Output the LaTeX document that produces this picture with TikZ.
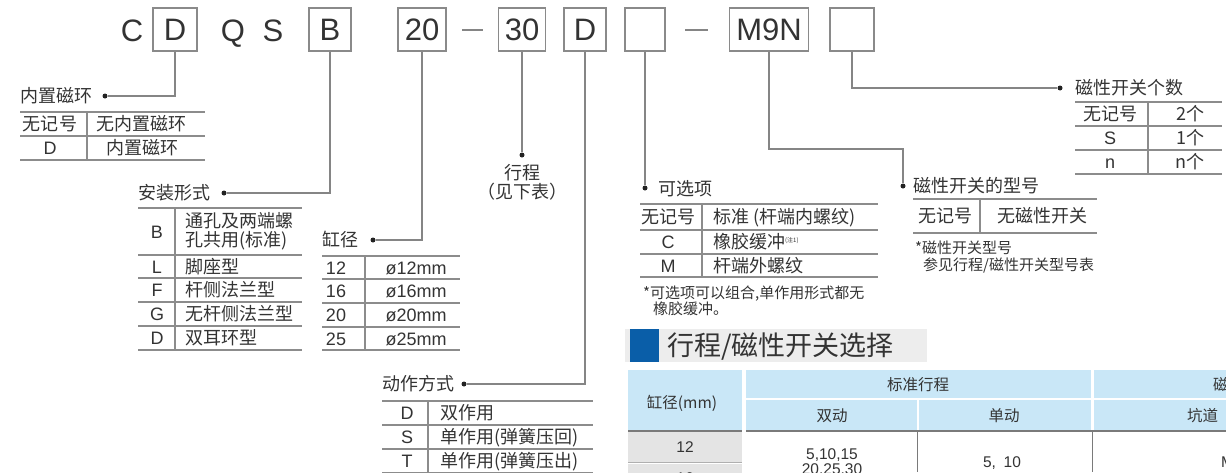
\documentclass[tikz,border=0pt]{standalone}
\usepackage{fontspec}
\setmainfont{Liberation Sans}
\newfontfamily\cjk{Noto Sans CJK SC}
\definecolor{tc}{HTML}{333333}
\definecolor{lc}{HTML}{8C8C8C}
\definecolor{cc}{HTML}{858585}
\definecolor{bc}{HTML}{8A8A8A}
\definecolor{dc}{HTML}{222222}
\definecolor{hb}{HTML}{C9E7F7}
\definecolor{gb}{HTML}{E4E4E4}
\definecolor{dl}{HTML}{7A7A7A}
\definecolor{tb}{HTML}{EDEDED}
\definecolor{bl}{HTML}{0A5EA8}
\tikzset{
  every node/.style={inner sep=0pt, text=tc},
  cn/.style={font=\cjk\fontsize{18}{18}\selectfont, text height=13pt, text depth=0pt},
  ln/.style={font=\fontsize{18}{18}\selectfont, text height=13pt, text depth=0pt},
  nt/.style={font=\cjk\fontsize{15}{15}\selectfont, text height=11pt, text depth=0pt},
  bt/.style={font=\cjk\fontsize{15.5}{15.5}\selectfont, text height=11pt, text depth=0pt},
  btl/.style={font=\fontsize{15.5}{15.5}\selectfont, text height=11pt, text depth=0pt},
  big/.style={font=\fontsize{31}{31}\selectfont, text height=22pt, text depth=0pt},
  codebox/.style={draw=bc, line width=1.2pt, minimum height=43pt, big},
  tl/.style={draw=lc, line width=1.1pt},
  conn/.style={draw=cc, line width=1.2pt},
  dotn/.style={circle, fill=dc, minimum size=5pt, inner sep=0pt},
}
\begin{document}
\begin{tikzpicture}[x=1pt,y=-1pt]
\useasboundingbox (0,0) rectangle (1226,472);
\clip (0,0) rectangle (1226,472);

% ---------- code row ----------
\node[big] (tC) at (132,30) {C};
\node[codebox, minimum width=44pt] (bD) at (175,29.5) {D};
\node[big] (tQ) at (233,30) {Q};
\node[big] (tS) at (273,30) {S};
\node[codebox, minimum width=42pt] (bB) at (330,29.5) {B};
\node[codebox, minimum width=48pt] (b20) at (422,29.5) {20};
\coordinate (h1a) at (462,30); \coordinate (h1b) at (483,30);
\draw[conn] (h1a) -- (h1b);
\node[codebox, minimum width=47pt] (b30) at (522,29.5) {30};
\node[codebox, minimum width=42pt] (bD2) at (585,29.5) {D};
\node[codebox, minimum width=40pt] (bE1) at (645,29.5) {};
\coordinate (h2a) at (685,30); \coordinate (h2b) at (708,30);
\draw[conn] (h2a) -- (h2b);
\node[codebox, minimum width=79pt] (bM) at (769,29.5) {M9N};
\node[codebox, minimum width=44pt] (bE2) at (852,29.5) {};

% ---------- 内置磁环 ----------
\node[dotn] (p1) at (105,96) {};
\node[cn, anchor=west] (l1) at (20,96) {内置磁环};
\draw[conn] (bD.south) |- (p1);
\draw[tl] (20,112) -- (205,112) (20,136) -- (205,136) (20,160) -- (205,160) (87,112) -- (87,160);
\node[cn] at (50,124) {无记号};
\node[cn] at (141,124) {无内置磁环};
\node[ln] at (50,148) {D};
\node[cn] at (142,148) {内置磁环};

% ---------- 安装形式 ----------
\node[dotn] (p2) at (224,193) {};
\node[cn, anchor=west] (l2) at (138,193) {安装形式};
\draw[conn] (bB.south) |- (p2);
\draw[tl] (138,208) -- (302,208) (138,255) -- (302,255) (138,278) -- (302,278)
  (138,302) -- (302,302) (138,326) -- (302,326) (138,350) -- (302,350) (175,208) -- (175,350);
\node[ln] at (157,232) {B};
\node[cn, anchor=west] at (185,221) {通孔及两端螺};
\node[cn, anchor=west] at (185,240) {孔共用(标准)};
\node[ln] at (157,267) {L};
\node[cn, anchor=west] at (185,267) {脚座型};
\node[ln] at (157,290) {F};
\node[cn, anchor=west] at (185,290) {杆侧法兰型};
\node[ln] at (157,314) {G};
\node[cn, anchor=west] at (185,314) {无杆侧法兰型};
\node[ln] at (157,338) {D};
\node[cn, anchor=west] at (185,338) {双耳环型};

% ---------- 缸径 ----------
\node[dotn] (p3) at (373,240) {};
\node[cn, anchor=west] (l3) at (322,240) {缸径};
\draw[conn] (b20.south) |- (p3);
\draw[tl] (322,256) -- (460,256) (322,279) -- (460,279) (322,303) -- (460,303)
  (322,327) -- (460,327) (322,350) -- (460,350) (365,256) -- (365,350);
\node[ln] at (336,267.5) {12};
\node[ln] at (416,267.5) {ø12mm};
\node[ln] at (336,291) {16};
\node[ln] at (416,291) {ø16mm};
\node[ln] at (336,315) {20};
\node[ln] at (416,315) {ø20mm};
\node[ln] at (336,338.5) {25};
\node[ln] at (416,338.5) {ø25mm};

% ---------- 行程 ----------
\node[dotn] (p4) at (522,155) {};
\draw[conn] (b30.south) -- (p4);
\node[cn] (l4a) at (522,173) {行程};
\node[cn] (l4b) at (522,192) {（见下表）};

% ---------- 动作方式 ----------
\node[dotn] (p5) at (464,384) {};
\node[cn, anchor=west] (l5) at (382,384) {动作方式};
\draw[conn] (bD2.south) |- (p5);
\draw[tl] (382,401) -- (593,401) (382,425) -- (593,425) (382,449) -- (593,449) (382,473) -- (593,473) (428,401) -- (428,473);
\node[ln] at (407,413) {D};
\node[cn, anchor=west] at (440,413) {双作用};
\node[ln] at (407,437) {S};
\node[cn, anchor=west] at (440,437) {单作用(弹簧压回)};
\node[ln] at (407,461) {T};
\node[cn, anchor=west] at (440,461) {单作用(弹簧压出)};

% ---------- 可选项 ----------
\node[dotn] (p6) at (645,188) {};
\node[cn, anchor=west] (l6) at (658,189) {可选项};
\draw[conn] (bE1.south) -- (p6);
\draw[tl] (640,204) -- (878,204) (640,230) -- (878,230) (640,254) -- (878,254) (640,277) -- (878,277) (702,204) -- (702,277);
\node[cn] at (668,217) {无记号};
\node[cn, anchor=west] at (713,217) {标准 (杆端内螺纹)};
\node[ln] at (668,242) {C};
\node[cn, anchor=west] at (713,242) {橡胶缓冲\raisebox{6pt}{\fontsize{6}{6}\selectfont(注1)}};
\node[ln] at (668,266) {M};
\node[cn, anchor=west] at (713,266) {杆端外螺纹};
\node[nt, anchor=west] at (643,293) {*可选项可以组合,单作用形式都无};
\node[nt, anchor=west] at (653,309) {橡胶缓冲。};

% ---------- 磁性开关的型号 ----------
\coordinate (k7) at (903,149);
\node[dotn] (p7) at (903,186) {};
\node[cn, anchor=west] (l7) at (913,186) {磁性开关的型号};
\draw[conn] (bM.south) |- (k7) -- (p7);
\draw[tl] (913,199) -- (1097,199) (913,233) -- (1097,233) (980,199) -- (980,233);
\node[cn] at (945,216) {无记号};
\node[cn] at (1042,216) {无磁性开关};
\node[nt, anchor=west] at (915,248) {*磁性开关型号};
\node[nt, anchor=west] at (923,265) {参见行程/磁性开关型号表};

% ---------- 磁性开关个数 ----------
\node[dotn] (p8) at (1060,88) {};
\node[cn, anchor=west] (l8) at (1075,88) {磁性开关个数};
\draw[conn] (bE2.south) |- (p8);
\draw[tl] (1075,102) -- (1222,102) (1075,126) -- (1222,126) (1075,150) -- (1222,150) (1075,174) -- (1222,174) (1148,102) -- (1148,174);
\node[cn] at (1110,114) {无记号};
\node[cn] at (1190,114) {2个};
\node[ln] at (1110,138) {S};
\node[cn] at (1190,138) {1个};
\node[ln] at (1110,162) {n};
\node[cn] at (1190,162) {n个};

% ---------- title ----------
\fill[tb] (625,329) rectangle (927,362);
\fill[bl] (630,329) rectangle (659,362);
\node[font=\cjk\fontsize{27}{27}\selectfont, text height=19.5pt, text depth=0pt, anchor=west] (ttl) at (667,346) {行程/磁性开关选择};

% ---------- bottom table ----------
\fill[hb] (628,370) rectangle (742,430);
\fill[hb] (746,370) rectangle (1091,397.5);
\fill[hb] (746,399.5) rectangle (916.5,430);
\fill[hb] (918.5,399.5) rectangle (1091,430);
\fill[hb] (1094,370) rectangle (1226,397.5);
\fill[hb] (1094,399.5) rectangle (1226,430);
\draw[draw=dl, line width=1.6pt] (628,431) -- (742,431) (746,431) -- (1226,431);
\fill[gb] (628,432) rectangle (742,461.5);
\fill[gb] (628,464) rectangle (742,480);
\draw[draw=lc!70, line width=1pt] (628,462.7) -- (742,462.7);
\draw[draw=dl, line width=1.4pt] (917.5,432) -- (917.5,472) (1092.5,432) -- (1092.5,472);
\node[bt] at (682,403) {缸径(mm)};
\node[bt] at (918,385) {标准行程};
\node[bt] at (832,416) {双动};
\node[bt] at (1004,416) {单动};
\node[bt, anchor=west] at (1213,385) {磁性};
\node[bt, anchor=west] at (1187,416) {坑道};
\node[btl] at (685,447) {12};
\node[btl] at (685,478) {16};
\node[btl] at (832,454) {5,10,15};
\node[btl] at (832,469) {20,25,30};
\node[btl] at (1002,462) {5,\enspace10};
\node[btl, anchor=west] at (1221,462) {M};
\end{tikzpicture}
\end{document}
